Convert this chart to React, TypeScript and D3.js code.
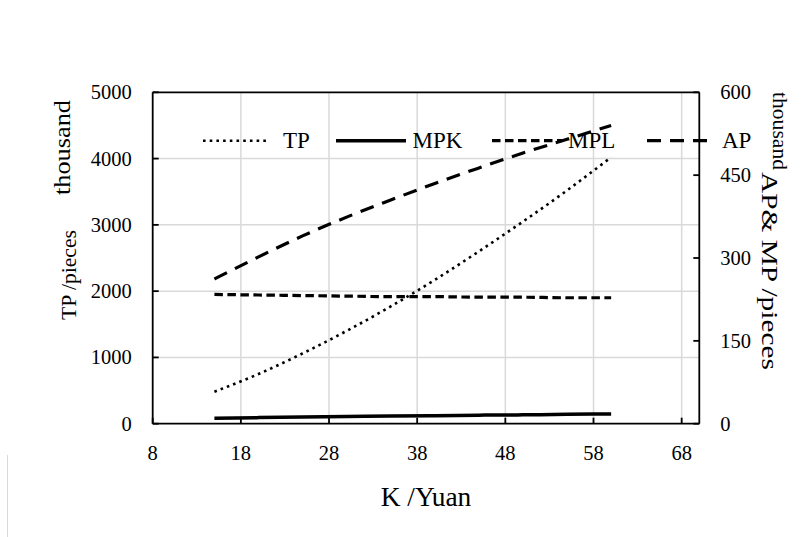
import React from "react";
import * as d3 from "d3";

const K = [15, 20, 25, 30, 35, 40, 45, 50, 55, 60];
const TP = [483, 750, 1060, 1400, 1770, 2170, 2600, 3050, 3520, 4020];
const MPK = [10, 11, 12, 13, 14, 14.5, 15.5, 16, 17, 17.5];
const MPL = [234, 233, 232, 231, 230, 230, 229, 229, 228, 228];
const AP = [262, 302, 340, 374, 405, 435, 463, 490, 515, 540];

const xTicks = [8, 18, 28, 38, 48, 58, 68];
const yLeftTicks = [0, 1000, 2000, 3000, 4000, 5000];
const yRightTicks = [0, 150, 300, 450, 600];
const legendNames = ["TP", "MPK", "MPL", "AP"];

const FONT = '"Liberation Serif", "Times New Roman", serif';

export default function App() {
  const W = 805, H = 537;
  const left = 152.7, right = 699.3, top = 92.3, bottom = 423.7;
  const x = d3.scaleLinear().domain([8, 70]).range([left, right]);
  const yL = d3.scaleLinear().domain([0, 5000]).range([bottom, top]);
  const yR = d3.scaleLinear().domain([0, 600]).range([bottom, top]);

  const lineL = (vals: number[]) =>
    d3.line<number>().x((_, i) => x(K[i])).y((d) => yL(d)).curve(d3.curveMonotoneX)(vals) || "";
  const lineR = (vals: number[]) =>
    d3.line<number>().x((_, i) => x(K[i])).y((d) => yR(d)).curve(d3.curveMonotoneX)(vals) || "";

  const styles: Record<string, any> = {
    TP: { strokeWidth: 2.6, dash: "2.6 4.1" },
    MPK: { strokeWidth: 3.5, dash: "none" },
    MPL: { strokeWidth: 3.2, dash: "8.5 4.5" },
    AP: { strokeWidth: 3.2, dash: "14 9" },
  };
  const series: Record<string, string> = {
    TP: lineL(TP),
    MPK: lineR(MPK),
    MPL: lineR(MPL),
    AP: lineR(AP),
  };
  const legendPos: Record<string, [number, number, number]> = {
    TP: [203, 268, 283],
    MPK: [336, 406, 412.5],
    MPL: [492, 562, 568],
    AP: [647, 713, 722],
  };
  const legY = 140.7;
  const tickFs = 20.5;

  return (
    <svg width={W} height={H} style={{ position: "absolute", left: 0, top: 0, background: "#fff" }} fontFamily={FONT}>
      <rect x={0} y={0} width={W} height={H} fill="#fff" />
      <line x1={7.5} x2={7.5} y1={455} y2={H} stroke="#d9d9d9" strokeWidth={1} />
      {/* gridlines */}
      {yLeftTicks.filter((t) => t > 0 && t < 5000).map((t) => (
        <line key={"gy" + t} x1={left} x2={right} y1={yL(t)} y2={yL(t)} stroke="#d9d9d9" strokeWidth={1.5} />
      ))}
      {xTicks.filter((t) => t > 8).map((t) => (
        <line key={"gx" + t} x1={x(t)} x2={x(t)} y1={top} y2={bottom} stroke="#d9d9d9" strokeWidth={1.5} />
      ))}
      {/* axes frame */}
      <line x1={left} x2={right} y1={top} y2={top} stroke="#000" strokeWidth={1.8} />
      <line x1={left} x2={right} y1={bottom} y2={bottom} stroke="#000" strokeWidth={1.8} />
      <line x1={left} x2={left} y1={top} y2={bottom} stroke="#000" strokeWidth={1.8} />
      <line x1={right} x2={right} y1={top} y2={bottom} stroke="#000" strokeWidth={1.8} />
      {/* ticks */}
      {xTicks.map((t) => (
        <g key={"xt" + t}>
          <line x1={x(t)} x2={x(t)} y1={bottom} y2={bottom - 6} stroke="#000" strokeWidth={1.8} />
          <text x={x(t)} y={bottom + 36.5} textAnchor="middle" fontSize={tickFs} fill="#000">{t}</text>
        </g>
      ))}
      {yLeftTicks.map((t) => (
        <g key={"yl" + t}>
          <line x1={left} x2={left + 6} y1={yL(t)} y2={yL(t)} stroke="#000" strokeWidth={1.8} />
          <text x={left - 21} y={yL(t) + 7} textAnchor="end" fontSize={tickFs} fill="#000">{t}</text>
        </g>
      ))}
      {yRightTicks.map((t) => (
        <g key={"yr" + t}>
          <line x1={right} x2={right - 6} y1={yR(t)} y2={yR(t)} stroke="#000" strokeWidth={1.8} />
          <text x={right + 21} y={yR(t) + 7} textAnchor="start" fontSize={tickFs} fill="#000">{t}</text>
        </g>
      ))}
      {/* series */}
      {legendNames.map((n) => (
        <path key={"s" + n} d={series[n]} fill="none" stroke="#000" strokeWidth={styles[n].strokeWidth} strokeDasharray={styles[n].dash} />
      ))}
      {/* legend */}
      {legendNames.map((n) => (
        <g key={"lg" + n}>
          <line x1={legendPos[n][0]} x2={legendPos[n][1]} y1={legY} y2={legY} stroke="#000" strokeWidth={styles[n].strokeWidth} strokeDasharray={styles[n].dash} />
          <text x={legendPos[n][2]} y={legY + 7.5} fontSize={23} fill="#000">{n}</text>
        </g>
      ))}
      {/* axis titles */}
      <text x={(left + right) / 2} y={505.5} textAnchor="middle" fontSize={27} textLength={90.6} lengthAdjust="spacingAndGlyphs" fill="#000">K /Yuan</text>
      <text transform={`translate(76,275) rotate(-90)`} textAnchor="middle" fontSize={22} textLength={90} lengthAdjust="spacingAndGlyphs" fill="#000">TP /pieces</text>
      <text transform={`translate(70,147.5) rotate(-90)`} textAnchor="middle" fontSize={24} textLength={95} lengthAdjust="spacingAndGlyphs" fill="#000">thousand</text>
      <text transform={`translate(762,271) rotate(90)`} textAnchor="middle" fontSize={23} textLength={198} lengthAdjust="spacingAndGlyphs" fill="#000">AP&amp; MP /pieces</text>
      <text transform={`translate(773,131) rotate(90)`} textAnchor="middle" fontSize={22} textLength={78} lengthAdjust="spacingAndGlyphs" fill="#000">thousand</text>
    </svg>
  );
}
